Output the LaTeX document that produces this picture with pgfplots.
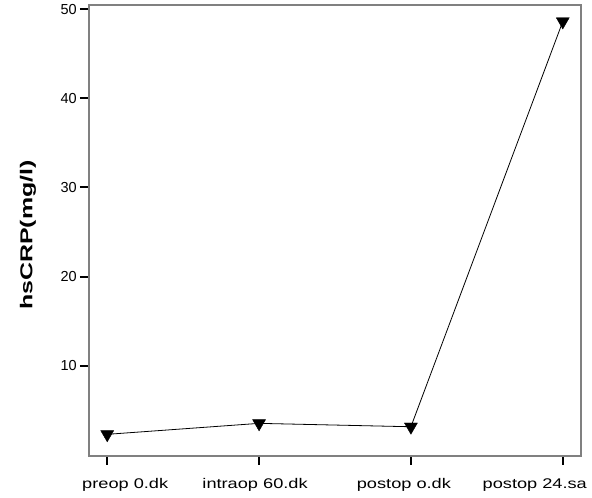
\documentclass[border=0pt]{standalone}
\usepackage{pgfplots}
\pgfplotsset{compat=1.18}
\usepackage{fontspec}
\setmainfont{Liberation Sans}
\newfontfamily\xlabfont[FakeStretch=1.3]{Liberation Sans}
\newfontfamily\ylabfont[FakeStretch=1.45]{Liberation Sans}
\newcommand\sh[2]{\makebox[0pt]{\hspace*{#1}#2}}
\definecolor{framegray}{RGB}{128,128,128}
\begin{document}
\begin{tikzpicture}
\path[use as bounding box] (-89pt,-42pt) rectangle (503pt,456pt);
\begin{axis}[
  at={(0pt,0pt)}, anchor=south west,
  scale only axis, width=492pt, height=451pt,
  xmin=-0.12, xmax=3.12, ymin=-0.12, ymax=50.45,
  xtick={0,1,2,3},
  xticklabels={\sh{36pt}{preop 0.dk},\sh{-8pt}{intraop 60.dk},\sh{-14pt}{postop o.dk},\sh{-56pt}{postop 24.sa}},
  ytick={10,20,30,40,50},
  xtick pos=bottom, ytick pos=left,
  tick align=outside,
  major tick length=9pt,
  tick style={black, line width=2pt},
  axis line style={framegray, line width=1.5pt},
  /pgf/number format/assume math mode=true,
  yticklabel style={font=\fontsize{14.5}{16}\selectfont, inner sep=3pt},
  xticklabel style={font=\fontsize{14}{16}\xlabfont, yshift=-10pt},
  ylabel={hsCRP(mg/l)},
  ylabel style={at={(axis description cs:-0.124,0.49)}, anchor=center, font=\fontsize{17.2}{18}\ylabfont\bfseries},
  clip=false,
]
\addplot[black, line width=0.8pt, mark=triangle*, mark size=7.5pt,
  mark options={rotate=180, fill=black, solid, line width=0.4pt}]
  coordinates {(0,2.31) (1,3.54) (2,3.16) (3,48.6)};
\end{axis}
\end{tikzpicture}
\end{document}
